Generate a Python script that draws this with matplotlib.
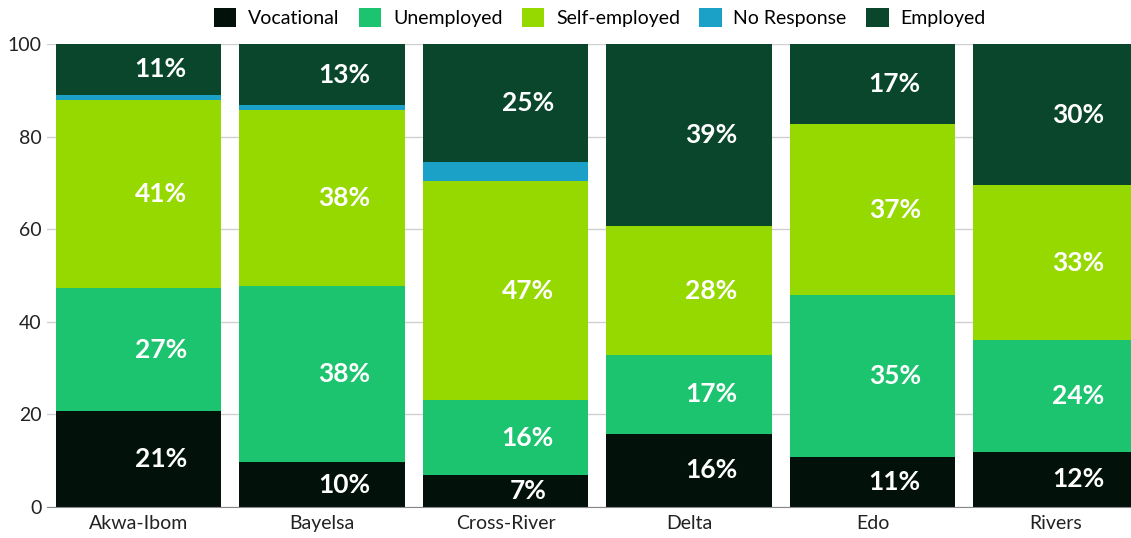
import matplotlib.pyplot as plt
import numpy as np

plt.rcParams['font.family'] = ['Lato', 'DejaVu Sans']

# survey shares (%) per state
states = ['Akwa-Ibom', 'Bayelsa', 'Cross-River', 'Delta', 'Edo', 'Rivers']
vocational = [20.7, 9.7, 6.9, 15.8, 10.8, 11.9]
unemployed = [26.6, 38.0, 16.2, 17.0, 35.0, 24.2]
self_employed = [40.6, 38.0, 47.3, 27.9, 36.9, 33.4]
no_response = [1.1, 1.1, 4.1, 0.0, 0.0, 0.0]
employed = [11.0, 13.2, 25.4, 39.3, 17.3, 30.4]

series = [
    ('Vocational', vocational, '#02120b', True),
    ('Unemployed', unemployed, '#1cc46f', True),
    ('Self-employed', self_employed, '#96d900', True),
    ('No Response', no_response, '#1ba1c8', False),
    ('Employed', employed, '#09462b', True),
]

fig = plt.figure(figsize=(11.31, 5.38), dpi=100)
ax = fig.add_axes([46.75 / 1131, 31 / 538, (1131 - 46.75) / 1131, 463 / 538])

x = np.arange(len(states))
bottom = np.zeros(len(states))
for name, vals, color, labelled in series:
    vals = np.array(vals)
    ax.bar(x, vals, 0.9, bottom=bottom, color=color, label=name, zorder=2)
    if labelled:
        for xi, b, v in zip(x, bottom, vals):
            ax.annotate(f'{v:.0f}%', (xi, b + v / 2), xytext=(16, 0),
                        textcoords='offset points', ha='center', va='center',
                        color='white', fontsize=19, fontweight='bold', zorder=3)
    bottom += vals

ax.set_xlim(-0.5, -0.5 + (1131 - 46.75) / 183.5)
ax.set_ylim(0, 100)
ax.set_yticks([0, 20, 40, 60, 80, 100])
ax.set_xticks(x)
ax.set_xticklabels(states)
ax.tick_params(axis='both', length=0, labelsize=14, colors='#222222')
ax.tick_params(axis='y', pad=3.5)
ax.tick_params(axis='x', pad=6)
ax.yaxis.grid(True, color='#d0d0d0', linewidth=1, zorder=0)
for s in ['top', 'right', 'left']:
    ax.spines[s].set_visible(False)
ax.spines['bottom'].set_color('#888888')

ax.legend(loc='upper center', bbox_to_anchor=(0.51, 1.0 + 48 / 463), ncol=5,
          frameon=False, fontsize=14, handlelength=1.15, handleheight=1.15,
          columnspacing=1.0, handletextpad=0.6, borderaxespad=0.2)

fig.savefig('out.png', dpi=100)
